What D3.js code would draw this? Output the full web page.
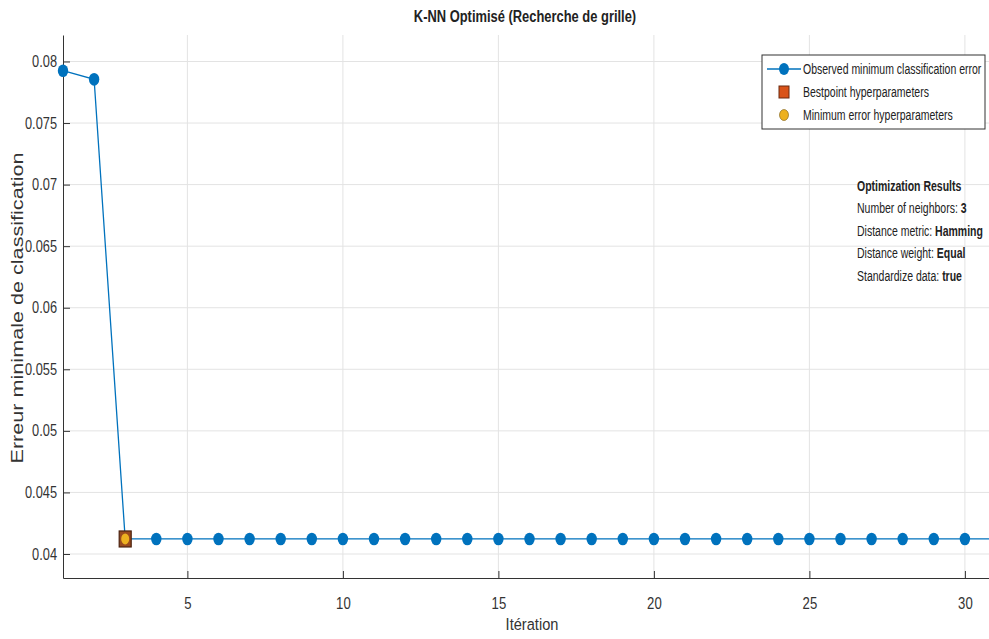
<!DOCTYPE html>
<html>
<head>
<meta charset="utf-8">
<script src="https://cdn.jsdelivr.net/npm/d3@7"></script>
<style>
  body { margin: 0; background: #fff; }
  text { font-family: "Liberation Sans", Arial, sans-serif; }
</style>
</head>
<body>
<div id="chart"></div>
<script>
// observed minimum classification error per iteration
let iterations = d3.range(1, 32);
let minError = [0.07925, 0.07855, 0.04122, 0.04122, 0.04122, 0.04122, 0.04122, 0.04122,
  0.04122, 0.04122, 0.04122, 0.04122, 0.04122, 0.04122, 0.04122, 0.04122, 0.04122,
  0.04122, 0.04122, 0.04122, 0.04122, 0.04122, 0.04122, 0.04122, 0.04122, 0.04122,
  0.04122, 0.04122, 0.04122, 0.04122, 0.04122];
let bestIter = 3;
let xTicks = [5, 10, 15, 20, 25, 30];
let yTicks = [0.04, 0.045, 0.05, 0.055, 0.06, 0.065, 0.07, 0.075, 0.08];
let legendLabels = ['Observed minimum classification error', 'Bestpoint hyperparameters', 'Minimum error hyperparameters'];
let resultLines = [
  ['Optimization Results', ''],
  ['Number of neighbors: ', '3'],
  ['Distance metric: ', 'Hamming'],
  ['Distance weight: ', 'Equal'],
  ['Standardize data: ', 'true']
];

let data = iterations.map((d, i) => ({ iter: d, err: minError[i] }));

let W = 989, H = 639;
let margin = { top: 35, right: 0, bottom: 61, left: 63 };
let height = H - margin.top - margin.bottom;

// narrow look: squeeze text horizontally
function squeeze(px, py, k) {
  return `translate(${px},${py}) scale(${k},1)`;
}

let svg = d3.select('#chart')
  .append('svg')
  .attr('width', W)
  .attr('height', H);

let x = d3.scaleLinear()
  .domain([1, 31])
  .range([margin.left, margin.left + 30 * 31.1]);

let y = d3.scaleLinear()
  .domain([0.03805, 0.08215])
  .range([H - margin.bottom, margin.top]);

svg.append('defs').append('clipPath')
  .attr('id', 'clip')
  .append('rect')
  .attr('x', margin.left - 8)
  .attr('y', margin.top)
  .attr('width', W - margin.left + 8)
  .attr('height', height);

// grid
let grid = svg.append('g');
grid.selectAll('.gx')
  .data(xTicks)
  .enter()
  .append('line')
  .attr('x1', d => x(d)).attr('x2', d => x(d))
  .attr('y1', margin.top).attr('y2', H - margin.bottom)
  .style('stroke', '#e3e3e3');
grid.selectAll('.gy')
  .data(yTicks)
  .enter()
  .append('line')
  .attr('x1', margin.left).attr('x2', W)
  .attr('y1', d => y(d)).attr('y2', d => y(d))
  .style('stroke', '#e3e3e3');

// axes
let xAxis = svg.append('g')
  .attr('transform', `translate(0,${H - margin.bottom})`)
  .call(d3.axisBottom(x).tickValues(xTicks).tickSizeInner(-7).tickSizeOuter(0));
xAxis.select('.domain').style('stroke', '#333');
xAxis.selectAll('.tick line').style('stroke', '#333');
xAxis.selectAll('text')
  .attr('y', null).attr('dy', null)
  .attr('transform', squeeze(0, 31, 0.82))
  .style('font-size', '16px').style('fill', '#333');

let yAxis = svg.append('g')
  .attr('transform', `translate(${margin.left},0)`)
  .call(d3.axisLeft(y).tickValues(yTicks).tickFormat(d3.format('')).tickSizeInner(-7).tickSizeOuter(0));
yAxis.select('.domain').style('stroke', '#333');
yAxis.selectAll('.tick line').style('stroke', '#333');
yAxis.selectAll('text')
  .attr('x', null)
  .attr('transform', squeeze(-6, 0, 0.8))
  .style('font-size', '16px').style('fill', '#333');

// line + markers
let plot = svg.append('g').attr('clip-path', 'url(#clip)');
plot.append('path')
  .datum(data)
  .attr('d', d3.line().x(d => x(d.iter)).y(d => y(d.err)))
  .style('fill', 'none')
  .style('stroke', '#0072BD')
  .style('stroke-width', 1.3);

plot.selectAll('.pt')
  .data(data.filter(d => d.iter !== bestIter))
  .enter()
  .append('ellipse')
  .attr('cx', d => x(d.iter))
  .attr('cy', d => y(d.err))
  .attr('rx', 5.2)
  .attr('ry', 6.3)
  .style('fill', '#0072BD');

let best = data.find(d => d.iter === bestIter);
plot.append('rect')
  .attr('x', x(best.iter) - 6)
  .attr('y', y(best.err) - 8)
  .attr('width', 12)
  .attr('height', 16)
  .style('fill', '#9a4a1e')
  .style('stroke', '#4a2210')
  .style('stroke-width', 1.2);
plot.append('ellipse')
  .attr('cx', x(best.iter))
  .attr('cy', y(best.err))
  .attr('rx', 4)
  .attr('ry', 5.5)
  .style('fill', '#EDB120');

// title and labels
svg.append('text')
  .attr('transform', squeeze(525, 22, 0.76))
  .attr('text-anchor', 'middle')
  .style('font-size', '17px')
  .style('font-weight', 'bold')
  .style('fill', '#222')
  .text('K-NN Optimisé (Recherche de grille)');

svg.append('text')
  .attr('transform', squeeze(532, 630, 0.86))
  .attr('text-anchor', 'middle')
  .style('font-size', '17px')
  .style('fill', '#333')
  .text('Itération');

svg.append('text')
  .attr('transform', 'translate(23,308) rotate(-90)')
  .attr('text-anchor', 'middle')
  .attr('textLength', 311)
  .attr('lengthAdjust', 'spacingAndGlyphs')
  .style('font-size', '16px')
  .style('fill', '#333')
  .text('Erreur minimale de classification');

// legend
let lg = svg.append('g').attr('transform', 'translate(762,55)');
lg.append('rect')
  .attr('width', 223).attr('height', 74)
  .style('fill', '#fff')
  .style('stroke', '#333');
let lgRow = lg.selectAll('.lrow')
  .data(legendLabels)
  .enter()
  .append('g')
  .attr('transform', (d, i) => `translate(0,${14 + i * 23})`);
lgRow.append('text')
  .attr('transform', squeeze(41, 5, 0.75))
  .style('font-size', '14px')
  .style('fill', '#222')
  .text(d => d);
lgRow.filter((d, i) => i === 0).append('line')
  .attr('x1', 5).attr('x2', 39)
  .style('stroke', '#0072BD').style('stroke-width', 1.3);
lgRow.filter((d, i) => i === 0).append('ellipse')
  .attr('cx', 22).attr('rx', 5).attr('ry', 6)
  .style('fill', '#0072BD');
lgRow.filter((d, i) => i === 1).append('rect')
  .attr('x', 17).attr('y', -6).attr('width', 10).attr('height', 12)
  .style('fill', '#D95319').style('stroke', '#6a2a10');
lgRow.filter((d, i) => i === 2).append('ellipse')
  .attr('cx', 22).attr('rx', 4.5).attr('ry', 5.5)
  .style('fill', '#EDB120').style('stroke', '#7a5a10').style('stroke-width', 0.6);

// optimization results text
let rt = svg.append('g').attr('transform', squeeze(857, 191, 0.75));
resultLines.forEach((r, i) => {
  let t = rt.append('text')
    .attr('y', i * 22.5)
    .style('font-size', '14px')
    .style('fill', '#222');
  let a = t.append('tspan').text(r[0]);
  if (i === 0) a.style('font-weight', 'bold');
  t.append('tspan').style('font-weight', 'bold').text(r[1]);
});
</script>
</body>
</html>
